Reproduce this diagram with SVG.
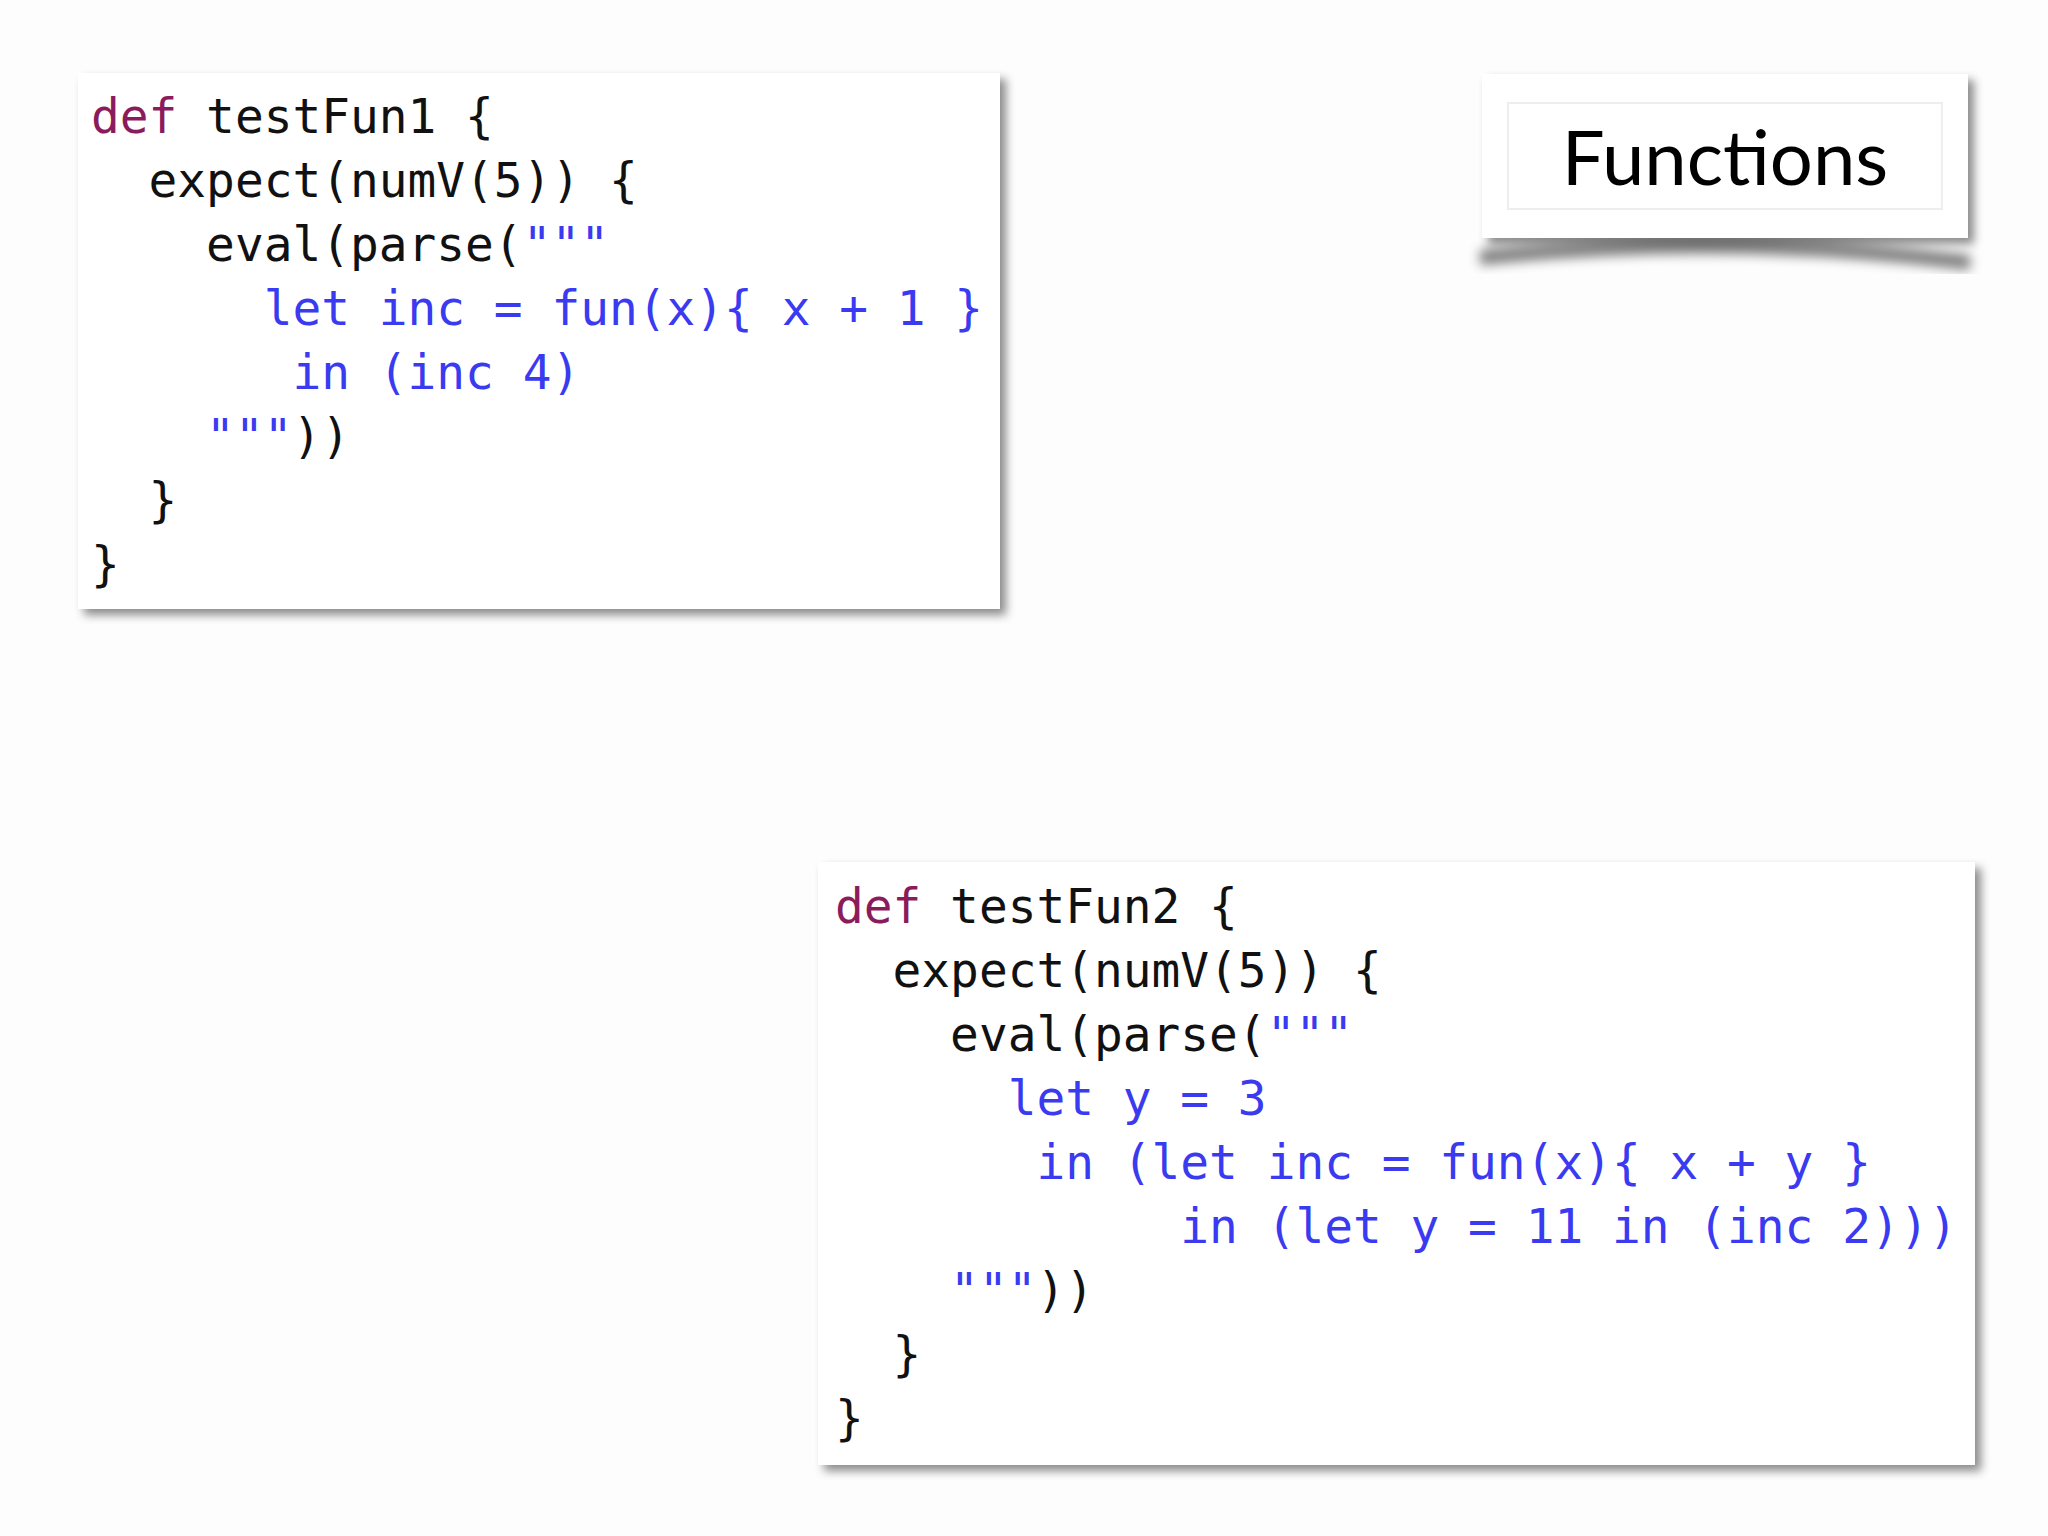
<svg xmlns="http://www.w3.org/2000/svg" width="2048" height="1536" viewBox="0 0 2048 1536">
<style>
.code{font-family:"DejaVu Sans Mono",monospace;font-size:47.8px;fill:#111;white-space:pre}
.k{fill:#8a1c5e}.b{fill:#3a3af0}
.box{fill:#fff}
</style>
<defs>
<filter id="sh" x="-10%" y="-10%" width="130%" height="130%"><feDropShadow dx="6" dy="6" stdDeviation="5" flood-color="#000" flood-opacity="0.45"/></filter>
<filter id="bl"><feGaussianBlur stdDeviation="6"/></filter>
</defs>
<rect width="2048" height="1536" fill="#fdfdfd"/>
<g id="box1">
<rect class="box" x="78" y="73" width="922" height="536" filter="url(#sh)"/>
<text class="code" xml:space="preserve"><tspan x="91" y="133"><tspan class="k">def</tspan> testFun1 {</tspan><tspan x="91" y="197">  expect(numV(5)) {</tspan><tspan x="91" y="261">    eval(parse(<tspan class="b">"""</tspan></tspan><tspan x="91" y="325" class="b">      let inc = fun(x){ x + 1 }</tspan><tspan x="91" y="389" class="b">       in (inc 4)</tspan><tspan x="91" y="453">    <tspan class="b">"""</tspan>))</tspan><tspan x="91" y="517">  }</tspan><tspan x="91" y="581">}</tspan></text>
</g>
<g id="title">
<path d="M1480 250 Q1725 225 1970 255 L1970 270 Q1725 240 1480 265 Z" fill="#000" opacity="0.5" filter="url(#bl)"/>
<rect class="box" x="1482" y="74" width="486" height="164" filter="url(#sh)"/>
<rect x="1508" y="103" width="434" height="106" fill="none" stroke="#eeeeee" stroke-width="2"/>
<text x="1725" y="185" text-anchor="middle" font-family="Lato,'Open Sans',sans-serif" font-size="76" fill="#000">Functions</text>
</g>
<g id="box2">
<rect class="box" x="818" y="862" width="1157" height="603" filter="url(#sh)"/>
<text class="code" xml:space="preserve"><tspan x="835" y="923"><tspan class="k">def</tspan> testFun2 {</tspan><tspan x="835" y="987">  expect(numV(5)) {</tspan><tspan x="835" y="1051">    eval(parse(<tspan class="b">"""</tspan></tspan><tspan x="835" y="1115" class="b">      let y = 3</tspan><tspan x="835" y="1179" class="b">       in (let inc = fun(x){ x + y }</tspan><tspan x="835" y="1243" class="b">            in (let y = 11 in (inc 2)))</tspan><tspan x="835" y="1307">    <tspan class="b">"""</tspan>))</tspan><tspan x="835" y="1371">  }</tspan><tspan x="835" y="1435">}</tspan></text>
</g>
<g id="connectors"/>
</svg>
